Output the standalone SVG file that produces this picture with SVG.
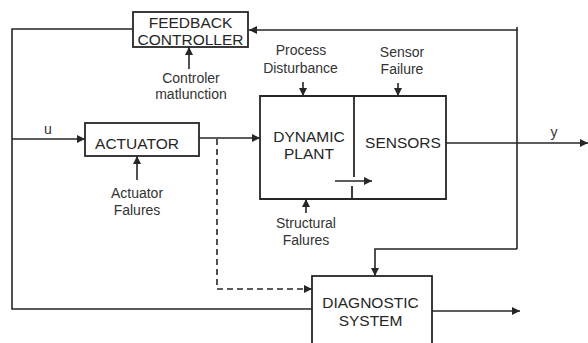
<svg xmlns="http://www.w3.org/2000/svg" width="588" height="343" viewBox="0 0 588 343">
  <style>
    .box { fill: #fff; stroke: #262626; stroke-width: 1.8; }
    .ln { fill: none; stroke: #262626; stroke-width: 1.6; }
    .dash { fill: none; stroke: #262626; stroke-width: 1.6; stroke-dasharray: 6 4; }
    .bt { font-family: "Liberation Sans", Arial, sans-serif; font-size: 15.5px; fill: #262626; text-anchor: middle; }
    .lb { font-family: "Liberation Sans", Arial, sans-serif; font-size: 14px; fill: #333; text-anchor: middle; }
  </style>
  <defs>
    <marker id="ah" viewBox="0 0 10 10" refX="10" refY="5" markerWidth="9" markerHeight="8" markerUnits="userSpaceOnUse" orient="auto">
      <path d="M0,0 L10,5 L0,10 z" fill="#262626"/>
    </marker>
  </defs>

  <g id="connectors">
    <!-- feedback path: right riser to controller, controller to left rail -->
    <polyline class="ln" points="517,249 517,30 249,30" marker-end="url(#ah)"/>
    <line class="ln" x1="517" y1="27" x2="517" y2="30"/>
    <polyline class="ln" points="133,29 12,29 12,309 312,309"/>
    <!-- input u -->
    <line class="ln" x1="12" y1="139" x2="85" y2="139" marker-end="url(#ah)"/>
    <!-- actuator to plant -->
    <line class="ln" x1="199" y1="138" x2="260" y2="138" marker-end="url(#ah)"/>
    <!-- dashed tap to diagnostics -->
    <polyline class="dash" points="217,139 217,289 312,289" marker-end="url(#ah)"/>
    <!-- sensors output y -->
    <line class="ln" x1="446" y1="143" x2="588" y2="143" marker-end="url(#ah)"/>
    <!-- measurement to diagnostics -->
    <polyline class="ln" points="517,249 375,249 375,276" marker-end="url(#ah)"/>
    <!-- diagnostics output -->
    <line class="ln" x1="432" y1="311" x2="520" y2="311" marker-end="url(#ah)"/>
    <!-- fault inputs -->
    <line class="ln" x1="189" y1="69" x2="189" y2="47" marker-end="url(#ah)"/>
    <line class="ln" x1="137" y1="180" x2="137" y2="156" marker-end="url(#ah)"/>
    <line class="ln" x1="303" y1="82" x2="303" y2="96" marker-end="url(#ah)"/>
    <line class="ln" x1="398" y1="83" x2="398" y2="96" marker-end="url(#ah)"/>
    <line class="ln" x1="306" y1="213" x2="306" y2="199" marker-end="url(#ah)"/>
    <!-- internal plant-to-sensor arrow -->
    <line class="ln" x1="335" y1="181" x2="372" y2="181" marker-end="url(#ah)"/>
  </g>

  <g id="feedback-controller">
    <rect class="box" x="133" y="12" width="115" height="35"/>
    <text class="bt" x="190.5" y="28">FEEDBACK</text>
    <text class="bt" x="190.5" y="44.5">CONTROLLER</text>
  </g>

  <g id="actuator">
    <rect class="box" x="85" y="123" width="114" height="33"/>
    <text class="bt" x="137" y="149">ACTUATOR</text>
  </g>

  <g id="dynamic-plant">
    <path class="ln" d="M354,96 L260,96 L260,199 L354,199" style="stroke-width:1.8"/>
    <text class="bt" x="309" y="142">DYNAMIC</text>
    <text class="bt" x="309" y="159">PLANT</text>
  </g>

  <g id="sensors">
    <path class="ln" d="M354,96 L446,96 L446,199 L352,199" style="stroke-width:1.8"/>
    <line class="ln" x1="354" y1="96" x2="354" y2="177" style="stroke-width:1.8"/>
    <line class="ln" x1="352" y1="186" x2="352" y2="199" style="stroke-width:1.8"/>
    <text class="bt" x="403" y="148">SENSORS</text>
  </g>

  <g id="diagnostic-system">
    <rect class="box" x="312" y="276" width="120" height="72"/>
    <text class="bt" x="370.5" y="308">DIAGNOSTIC</text>
    <text class="bt" x="370.5" y="326">SYSTEM</text>
  </g>

  <g id="labels">
    <text class="lb" x="48" y="134">u</text>
    <text class="lb" x="554" y="137">y</text>
    <text class="lb" x="191" y="83">Controler</text>
    <text class="lb" x="191" y="99">matlunction</text>
    <text class="lb" x="301" y="55">Process</text>
    <text class="lb" x="300.5" y="73">Disturbance</text>
    <text class="lb" x="402" y="57">Sensor</text>
    <text class="lb" x="402" y="74">Failure</text>
    <text class="lb" x="137" y="198">Actuator</text>
    <text class="lb" x="137" y="215">Falures</text>
    <text class="lb" x="306" y="228">Structural</text>
    <text class="lb" x="306" y="245">Falures</text>
  </g>
</svg>
